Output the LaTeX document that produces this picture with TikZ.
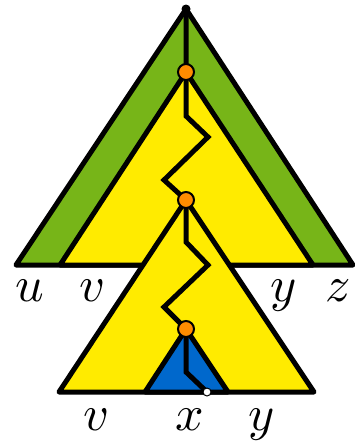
\documentclass[tikz,border=0pt]{standalone}
\usepackage{tikz}
\definecolor{tgreen}{RGB}{119,181,24}
\definecolor{tyellow}{RGB}{255,235,0}
\definecolor{tblue}{RGB}{0,104,204}
\definecolor{torange}{RGB}{255,140,0}
\begin{document}
\begin{tikzpicture}[x=1pt,y=-1pt,
  tri/.style={draw=black,line width=5pt,line join=round},
  pathline/.style={draw=black,line width=5pt,line join=miter},
  odot/.style={circle,fill=torange,draw=black,line width=2pt,inner sep=0pt,minimum size=16pt},
  wdot/.style={circle,fill=white,draw=black,line width=1pt,inner sep=0pt,minimum size=8pt},
  bdot/.style={circle,fill=black,inner sep=0pt,minimum size=9pt},
  lab/.style={inner sep=0pt,scale=5}]
\useasboundingbox (0,0) rectangle (354,447);
% coordinates
\coordinate (top) at (186,9);
\coordinate (o1) at (186,72);
\coordinate (o2) at (186,200);
\coordinate (o3) at (186,329);
\coordinate (end) at (207,392);
% green triangle
\path[tri,fill=tgreen] (top) -- (16,265) -- (353,265) -- cycle;
% first yellow
\path[tri,fill=tyellow] (o1) -- (60,265) -- (313,265) -- cycle;
% path top
\draw[pathline] (top) -- (o1) -- (186,116) -- (208,137) -- (164,180) -- (o2);
% second yellow
\path[tri,fill=tyellow] (o2) -- (59,392) -- (314,392) -- cycle;
\draw[pathline] (o2) -- (186,242) -- (208,265) -- (164,307) -- (o3);
% blue
\path[tri,fill=tblue] (o3) -- (145,392) -- (228,392) -- cycle;
\draw[pathline] (o3) -- (186,372) -- (end);
% dots
\node[bdot] (n0) at (top) {};
\node[odot] (n1) at (o1) {};
\node[odot] (n2) at (o2) {};
\node[odot] (n3) at (o3) {};
\node[wdot] (n4) at (end) {};
% labels
\node[lab] (lu) at (30,291) {$u$};
\node[lab] (lv) at (93,291) {$v$};
\node[lab] (ly) at (284,296) {$y$};
\node[lab] (lz) at (338,291) {$z$};
\node[lab] (lv2) at (97,420) {$v$};
\node[lab] (lx) at (190,420) {$x$};
\node[lab] (ly2) at (262,425) {$y$};
\end{tikzpicture}
\end{document}
